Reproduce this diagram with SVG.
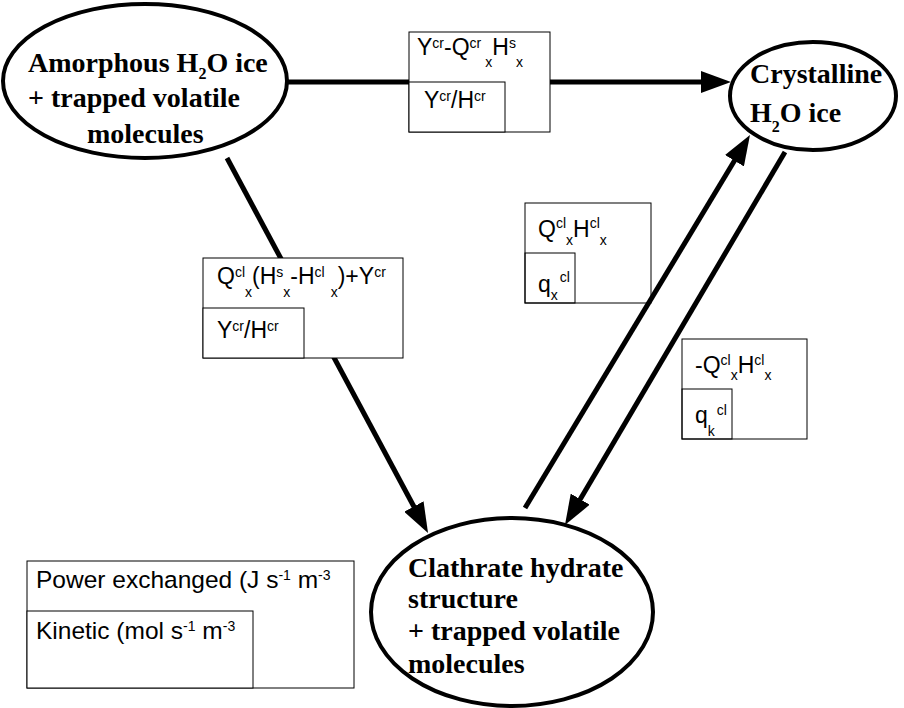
<svg xmlns="http://www.w3.org/2000/svg" width="904" height="708" viewBox="0 0 904 708">
<style>
.bg{fill:#fff}
.node{fill:#fff;stroke:#000;stroke-width:4}
.nt{font-family:"Liberation Serif","Times New Roman",serif;font-weight:bold;font-size:28px;fill:#000}
.sub2{font-size:16px}
.edge{stroke:#000;stroke-width:5;fill:none}
.box{fill:#fff;stroke:#000;stroke-width:1}
.boxn{fill:none;stroke:#000;stroke-width:1}
.f{font-family:"Liberation Sans",Arial,sans-serif;font-size:23px;fill:#000}
.lg{font-size:24.5px}
.s{font-size:14px}
</style>
<defs>
<marker id="ah" viewBox="0 0 30 22" refX="2" refY="11" markerWidth="30" markerHeight="22" markerUnits="userSpaceOnUse" orient="auto">
<path d="M0,0 L30,11 L0,22 z" fill="#000"/>
</marker>
</defs>
<rect class="bg" x="0" y="0" width="904" height="708"/>

<g id="connectors">
<line class="edge" x1="287" y1="82" x2="703" y2="82" marker-end="url(#ah)"/>
<line class="edge" x1="227" y1="158" x2="414.8" y2="508.3" marker-end="url(#ah)"/>
<line class="edge" x1="525" y1="508" x2="735.5" y2="159" marker-end="url(#ah)"/>
<line class="edge" x1="785" y1="152" x2="579.2" y2="500.9" marker-end="url(#ah)"/>
</g>

<g id="amorphous">
<ellipse class="node" cx="145" cy="81" rx="142" ry="77"/>
<text class="nt" x="28" y="72">Amorphous H<tspan class="sub2" dy="7">2</tspan><tspan dy="-7">O ice</tspan></text>
<text class="nt" x="28" y="107">+ trapped volatile</text>
<text class="nt" x="87" y="143">molecules</text>
</g>

<g id="crystalline">
<ellipse class="node" cx="813" cy="96" rx="83" ry="54"/>
<text class="nt" x="750" y="83">Crystalline</text>
<text class="nt" x="750" y="122">H<tspan class="sub2" dy="10">2</tspan><tspan dy="-10">O ice</tspan></text>
</g>

<g id="clathrate">
<ellipse class="node" cx="512" cy="612" rx="141" ry="94"/>
<text class="nt" x="408" y="577">Clathrate hydrate</text>
<text class="nt" x="408" y="608">structure</text>
<text class="nt" x="408" y="640">+ trapped volatile</text>
<text class="nt" x="408" y="673">molecules</text>
</g>

<g id="label-amorphous-crystalline">
<rect class="box" x="409" y="32" width="141" height="100"/>
<rect class="box" x="409" y="82" width="96" height="50"/>
<text class="f" x="417" y="55">Y<tspan class="s" dy="-7">cr</tspan><tspan dy="7">-Q</tspan><tspan class="s" dy="-7">cr</tspan><tspan class="s" dx="4" dy="19">x</tspan><tspan dy="-12">H</tspan><tspan class="s" dy="-7">s</tspan><tspan class="s" dy="19">x</tspan></text>
<text class="f" x="424" y="108">Y<tspan class="s" dy="-7">cr</tspan><tspan dy="7">/H</tspan><tspan class="s" dy="-7">cr</tspan></text>
</g>

<g id="label-amorphous-clathrate">
<rect class="box" x="203" y="258" width="200" height="100"/>
<rect class="box" x="203" y="308" width="101" height="50"/>
<text class="f" x="217" y="284">Q<tspan class="s" dy="-7">cl</tspan><tspan class="s" dy="20">x</tspan><tspan dy="-13">(H</tspan><tspan class="s" dy="-7">s</tspan><tspan class="s" dy="20">x</tspan><tspan dy="-13">-H</tspan><tspan class="s" dy="-7">cl</tspan><tspan class="s" dx="6" dy="20">x</tspan><tspan dy="-13">)+Y</tspan><tspan class="s" dy="-7">cr</tspan></text>
<text class="f" x="217" y="338">Y<tspan class="s" dy="-7">cr</tspan><tspan dy="7">/H</tspan><tspan class="s" dy="-7">cr</tspan></text>
</g>

<g id="label-clathrate-crystalline">
<rect class="boxn" x="525" y="203" width="126" height="100"/>
<rect class="boxn" x="525" y="253" width="50" height="50"/>
<text class="f" x="538" y="237">Q<tspan class="s" dy="-9">cl</tspan><tspan class="s" dy="17">x</tspan><tspan dy="-8">H</tspan><tspan class="s" dy="-9">cl</tspan><tspan class="s" dy="17">x</tspan></text>
<text class="f" x="538" y="292">q<tspan class="s" dy="8">x</tspan><tspan class="s" dx="2" dy="-18">cl</tspan></text>
</g>

<g id="label-crystalline-clathrate">
<rect class="boxn" x="682" y="339" width="125" height="100"/>
<rect class="boxn" x="682" y="389" width="50" height="50"/>
<text class="f" x="695" y="373">-Q<tspan class="s" dy="-8">cl</tspan><tspan class="s" dy="15">x</tspan><tspan dy="-7">H</tspan><tspan class="s" dy="-8">cl</tspan><tspan class="s" dy="15">x</tspan></text>
<text class="f" x="695" y="423">q<tspan class="s" dy="13">k</tspan><tspan class="s" dx="2" dy="-21">cl</tspan></text>
</g>

<g id="legend">
<rect class="box" x="27" y="561" width="327" height="127"/>
<rect class="box" x="27" y="611" width="226" height="77"/>
<text class="f lg" x="36" y="588">Power exchanged (J s<tspan class="s" dy="-8">-1</tspan><tspan dy="8"> m</tspan><tspan class="s" dy="-8">-3</tspan></text>
<text class="f lg" x="36" y="639">Kinetic (mol s<tspan class="s" dy="-8">-1</tspan><tspan dy="8"> m</tspan><tspan class="s" dy="-8">-3</tspan></text>
</g>
</svg>
